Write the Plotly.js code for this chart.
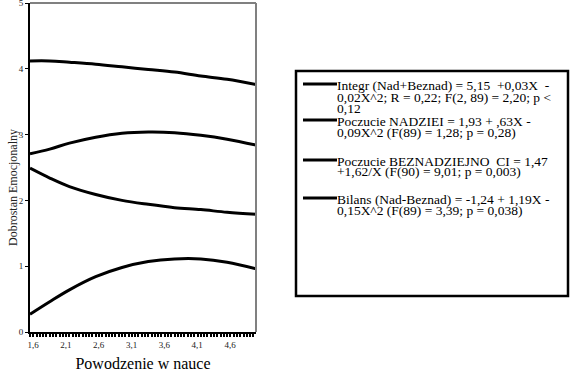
<!DOCTYPE html>
<html>
<head>
<meta charset="utf-8">
<script src="https://cdn.plot.ly/plotly-3.0.1.min.js"></script>
<style>html,body{margin:0;padding:0;background:#fff;}#chart{width:570px;height:377px;}</style>
</head>
<body>
<div id="chart"></div>
<script>
// ---- data ----
var xValues = [1.6, 1.9, 2.2, 2.6, 3.0, 3.4, 3.8, 4.2, 4.6, 5.04];
var integr   = [4.12, 4.12, 4.10, 4.07, 4.03, 3.99, 3.95, 3.89, 3.84, 3.76];
var nadziei  = [2.71, 2.78, 2.87, 2.96, 3.02, 3.04, 3.03, 2.99, 2.93, 2.84];
var beznadz  = [2.49, 2.34, 2.21, 2.09, 2.00, 1.94, 1.89, 1.86, 1.82, 1.79];
var bilans   = [0.27, 0.46, 0.64, 0.84, 0.98, 1.07, 1.11, 1.11, 1.06, 0.96];
var xTickVals = [1.6, 2.1, 2.6, 3.1, 3.6, 4.1, 4.6];
var xTickText = ["1,6", "2,1", "2,6", "3,1", "3,6", "4,1", "4,6"];
var yTickVals = [0, 1, 2, 3, 4, 5];
var xTitle = "Powodzenie w nauce";
var yTitle = "Dobrostan Emocjonalny";
var legendEntries = [
  ["Integr (Nad+Beznad) = 5,15 &nbsp;+0,03X &nbsp;-", "0,02X^2; R = 0,22; F(2, 89) = 2,20; p &lt;", "0,12"],
  ["Poczucie NADZIEI = 1,93 + ,63X -", "0,09X^2 (F(89) = 1,28; p = 0,28)"],
  ["Poczucie BEZNADZIEJNO &nbsp;CI = 1,47", "+1,62/X (F(90) = 9,01; p = 0,003)"],
  ["Bilans (Nad-Beznad) = -1,24 + 1,19X -", "0,15X^2 (F(89) = 3,39; p = 0,038)"]
];
var seriesList = [integr, nadziei, beznadz, bilans];

// ---- layout helpers (pixel -> paper) ----
var W = 570, H = 377, ML = 30, MR = 1, MT = 3, MB = 45;
var PW = W - ML - MR, PH = H - MT - MB;
function px(x){ return (x - ML) / PW; }
function py(y){ return (H - MB - y) / PH; }
var serif = "Liberation Serif";

var traces = seriesList.map(function(s, i){
  return {x: xValues, y: s, type: 'scatter', mode: 'lines',
    line: {color: '#000', width: 3, shape: 'spline'},
    name: legendEntries[i][0], showlegend: false, hoverinfo: 'skip'};
});

var plotRight = 256;
var shapes = [
  {type:'line', xref:'paper', yref:'paper', x0:0, x1:px(plotRight), y0:1, y1:1, line:{color:'#808080', width:2}},
  {type:'line', xref:'paper', yref:'paper', x0:px(plotRight), x1:px(plotRight), y0:0, y1:1, line:{color:'#808080', width:2}},
  {type:'rect', xref:'paper', yref:'paper', x0:px(296), x1:px(568), y0:py(71), y1:py(296), line:{color:'#000', width:2.5}, fillcolor:'rgba(0,0,0,0)'}
];
var annotations = [];
var lineYs = [[84, 96, 107], [120, 131], [160, 171], [198, 209]];
legendEntries.forEach(function(entry, i){
  shapes.push({type:'line', xref:'paper', yref:'paper', x0:px(303), x1:px(337), y0:py(lineYs[i][0]), y1:py(lineYs[i][0]), line:{color:'#000', width:3}});
  entry.forEach(function(t, j){
    annotations.push({xref:'paper', yref:'paper', x:px(335), y:py(lineYs[i][j] + 1), xanchor:'left', yanchor:'middle',
      text:t, showarrow:false, align:'left', font:{family:serif, size:13.5, color:'#000'}});
  });
});
annotations.push({xref:'paper', yref:'paper', x:px(13), y:py(188), text:yTitle, textangle:-90, showarrow:false,
  xanchor:'center', yanchor:'middle', font:{family:serif, size:12, color:'#222'}});

var layout = {
  width: W, height: H,
  margin: {l: ML, r: MR, t: MT, b: MB},
  paper_bgcolor: '#fff', plot_bgcolor: '#fff',
  showlegend: false,
  font: {family: serif},
  xaxis: {
    domain: [0, px(plotRight)], range: [1.6, 5.04], showgrid: false, zeroline: false,
    showline: true, linecolor: '#000', linewidth: 2,
    tickmode: 'array', tickvals: xTickVals, ticktext: xTickText,
    ticks: 'outside', ticklen: 3, tickwidth: 2, tickcolor: '#000',
    minor: {dtick: 0.05, tick0: 1.6, ticks: 'outside', ticklen: 3, tickwidth: 2, tickcolor: '#000', showgrid: false},
    tickfont: {family: serif, size: 9, color: '#222'}, ticklabelshift: 3,
    title: {text: xTitle, font: {family: serif, size: 16, color: '#000'}, standoff: 9},
    automargin: false, fixedrange: true
  },
  yaxis: {
    range: [0, 5], showgrid: false, zeroline: false,
    showline: true, linecolor: '#000', linewidth: 2,
    tickmode: 'array', tickvals: yTickVals,
    ticks: 'outside', ticklen: 3, tickwidth: 1, tickcolor: '#000',
    tickfont: {family: serif, size: 9, color: '#222'}, ticklabeloverflow: 'allow',
    automargin: false, fixedrange: true
  },
  shapes: shapes,
  annotations: annotations
};
Plotly.newPlot('chart', traces, layout, {displayModeBar: false, staticPlot: true});
</script>
</body>
</html>
